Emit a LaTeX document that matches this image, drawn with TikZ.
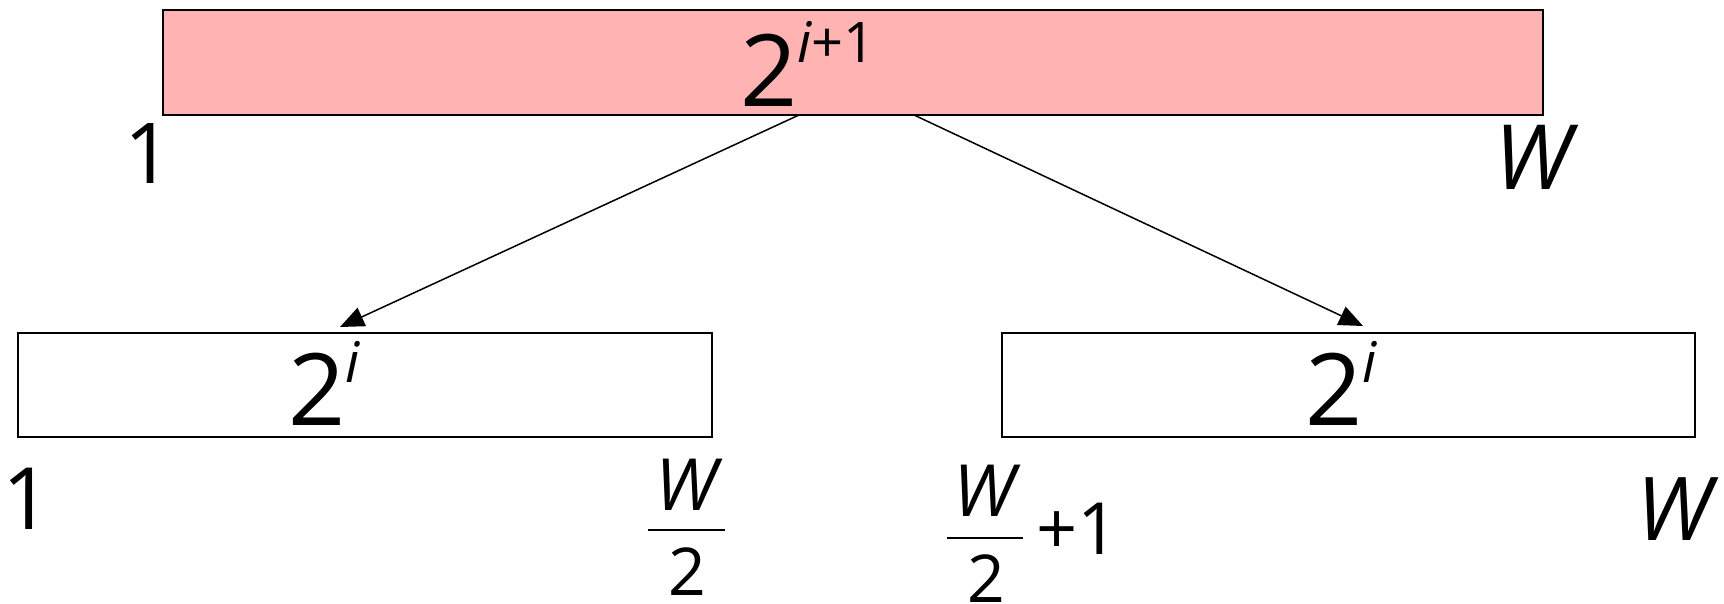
\documentclass[tikz,border=0pt]{standalone}
\usepackage{fontspec}
\setmainfont{Open Sans}
\usetikzlibrary{arrows.meta}
\definecolor{pinkfill}{RGB}{255,179,179}
\begin{document}
\begin{tikzpicture}[x=0.5pt,y=-0.5pt,
  box/.style={draw=black, line width=0.9pt, rectangle, inner sep=0pt, outer sep=0pt},
  lab/.style={inner sep=0pt, outer sep=0pt},
  arr/.style={line width=0.75pt, -{Triangle[length=12pt,width=10pt]}},
  fracbar/.style={line width=1.4pt}]
\useasboundingbox (0,0) rectangle (1724,604);
% boxes
\node[box, fill=pinkfill, minimum width=690pt, minimum height=52.5pt] (top) at (853,62.5) {};
\node[box, fill=white, minimum width=347pt, minimum height=52pt] (left) at (365,385) {};
\node[box, fill=white, minimum width=346.5pt, minimum height=52pt] (right) at (1348.5,385) {};
% box texts
\node[lab, anchor=base west] (toptxt) at (740,107) {\fontsize{50}{60}\selectfont 2\raisebox{22pt}{\fontsize{28}{30}\selectfont\itshape i\upshape+1}};
\node[lab, anchor=base west] (lefttxt) at (288,425) {\fontsize{50}{60}\selectfont 2\raisebox{21.5pt}{\fontsize{28}{30}\selectfont\itshape i}};
\node[lab, anchor=base west] (righttxt) at (1305,425) {\fontsize{50}{60}\selectfont 2\raisebox{21.5pt}{\fontsize{28}{30}\selectfont\itshape i}};
% end labels
\node[lab, anchor=base] (one1) at (149,184) {\fontsize{42}{50}\selectfont 1};
\node[lab, anchor=base] (w1) at (1533,190) {\fontsize{45}{50}\selectfont\itshape W};
\node[lab, anchor=base] (one2) at (27,529) {\fontsize{43}{50}\selectfont 1};
\node[lab, anchor=base] (w2) at (1674,540) {\fontsize{44}{50}\selectfont\itshape W};
% W/2
\node[lab, anchor=base] (wa) at (686,510) {\fontsize{36}{45}\selectfont\itshape W};
\coordinate (ba1) at (648,530); \coordinate (ba2) at (725,530);
\draw[fracbar] (ba1) -- (ba2);
\node[lab, anchor=base] (twoa) at (687,595) {\fontsize{33}{40}\selectfont 2};
% W/2 + 1
\node[lab, anchor=base] (wb) at (984,516) {\fontsize{36}{45}\selectfont\itshape W};
\coordinate (bb1) at (947,538); \coordinate (bb2) at (1023,538);
\draw[fracbar] (bb1) -- (bb2);
\node[lab, anchor=base] (twob) at (986,602) {\fontsize{33}{40}\selectfont 2};
\node[lab, anchor=base west] (plusone) at (1036,554) {\fontsize{36}{40}\selectfont +1};
% arrows
\coordinate (s1) at (799,115); \coordinate (t1) at (340,327);
\coordinate (s2) at (914,115); \coordinate (t2) at (1363,326);
\draw[arr] (s1) -- (t1);
\draw[arr] (s2) -- (t2);
\end{tikzpicture}
\end{document}
